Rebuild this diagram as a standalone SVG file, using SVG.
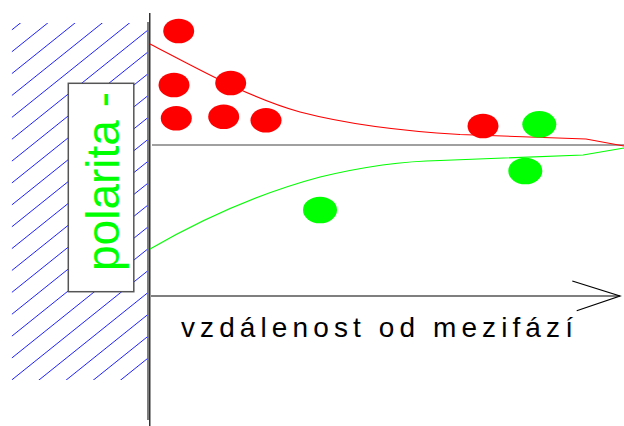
<svg xmlns="http://www.w3.org/2000/svg" width="624" height="426" viewBox="0 0 624 426">
  <style>
    .hatch { stroke: #2020ff; stroke-width: 1; fill: none; }
    .red { fill: #ff0000; }
    .green { fill: #00ff00; }
    .curve-red { stroke: #ff0000; stroke-width: 1.1; fill: none; }
    .curve-green { stroke: #00ff00; stroke-width: 1.1; fill: none; }
    .axis { stroke: #000; stroke-width: 1.2; fill: none; }
    .label { font-family: "Liberation Sans", Arial, sans-serif; }
  </style>
  <defs>
    <clipPath id="wallClip">
      <rect x="11.7" y="23" width="136.3" height="357"/>
    </clipPath>
  </defs>
  <rect width="624" height="426" fill="#fff"/>

  <!-- hatched electrode wall -->
  <g id="wall">
    <path class="hatch" clip-path="url(#wallClip)" d="
      M11.7,30 L148,-79.4 M11.7,51.9 L148,-57.5 M11.7,73.75 L148,-35.6
      M11.7,95.6 L148,-13.75 M11.7,117.5 L148,8.1 M11.7,139.4 L148,30
      M11.7,161.25 L148,51.9 M11.7,183.1 L148,73.75 M11.7,205 L148,95.6
      M11.7,226.9 L148,117.5 M11.7,248.75 L148,139.4 M11.7,270.6 L148,161.25
      M11.7,292.5 L148,183.1 M11.7,314.4 L148,205 M11.7,336.25 L148,226.9
      M11.7,358.1 L148,248.75 M11.7,380 L148,270.6 M11.7,401.9 L148,292.5
      M11.7,423.75 L148,314.4 M11.7,445.6 L148,336.25 M11.7,467.5 L148,358.1"/>
    <line x1="148" y1="22" x2="148" y2="420" stroke="#707070" stroke-width="1.8"/>
    <line x1="149.8" y1="13" x2="149.8" y2="426" stroke="#000" stroke-width="1.2"/>
  </g>

  <!-- polarity label box -->
  <g id="polarity">
    <rect x="68.3" y="83.3" width="65.5" height="208.4" fill="#fff" stroke="#555" stroke-width="1.5"/>
    <text class="label" transform="translate(119.3,271) rotate(-90)" font-size="46" fill="#00ff00">polarita -</text>
  </g>

  <!-- interface line -->
  <line id="interface" x1="152" y1="145" x2="624" y2="145" stroke="#808080" stroke-width="1.6"/>

  <!-- concentration profiles -->
  <g id="profiles">
    <path class="curve-red" d="M150,44 C200,70 250,98 300,112 C350,125 400,131 460,134.5 L586,139 L624,146"/>
    <path class="curve-green" d="M150,249 C200,220 260,193 320,177 C370,165 410,161 440,160.5 L583,155 L624,148"/>
  </g>

  <!-- counter-ions (red) -->
  <g id="red-ions" class="red">
    <ellipse cx="178.7" cy="31" rx="15.5" ry="12.3"/>
    <ellipse cx="174" cy="85" rx="15.5" ry="12.3"/>
    <ellipse cx="230.7" cy="83" rx="15.5" ry="12.3"/>
    <ellipse cx="176.3" cy="118.3" rx="15.5" ry="12.3"/>
    <ellipse cx="223.7" cy="116.7" rx="15.5" ry="12.3"/>
    <ellipse cx="266" cy="120.3" rx="15.5" ry="12.3"/>
    <ellipse cx="483" cy="126" rx="15.5" ry="12.3"/>
  </g>

  <!-- co-ions (green) -->
  <g id="green-ions" class="green">
    <ellipse cx="539.3" cy="124.3" rx="17" ry="13.3"/>
    <ellipse cx="525.3" cy="171" rx="17" ry="13.3"/>
    <ellipse cx="320" cy="210" rx="17" ry="13.3"/>
  </g>

  <!-- distance axis -->
  <g id="axis">
    <line class="axis" x1="151" y1="296" x2="620" y2="296"/>
    <polyline class="axis" points="572.3,281 620,296 576.7,310.7"/>
    <text class="label" x="181" y="337.3" font-size="28" letter-spacing="5.1" fill="#000">vzdálenost od mezifází</text>
  </g>
</svg>
